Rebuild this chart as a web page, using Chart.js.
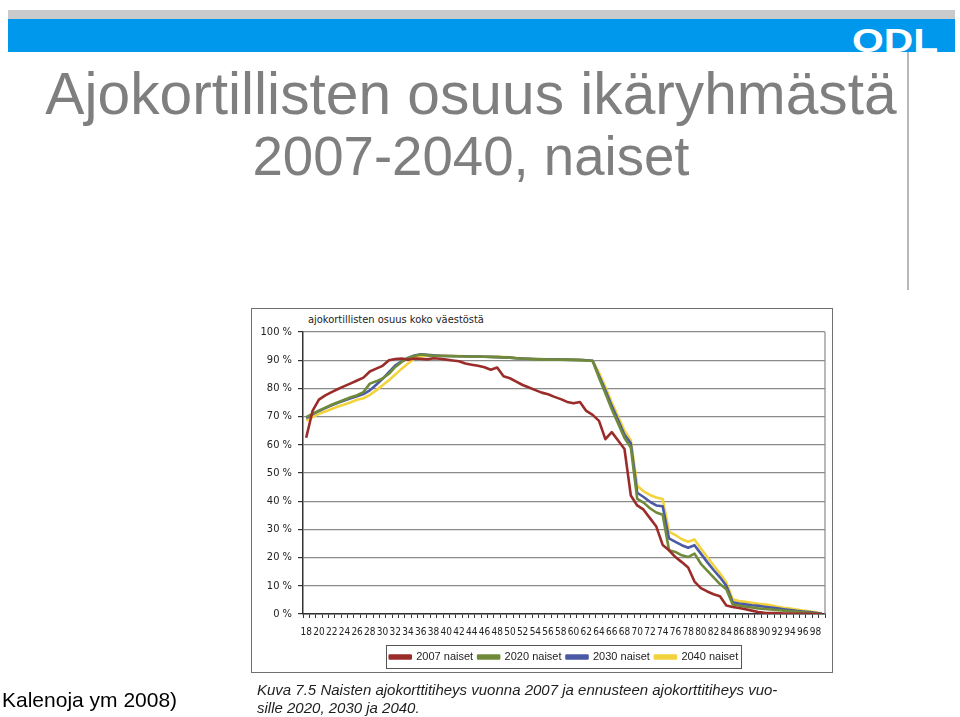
<!DOCTYPE html>
<html>
<head>
<meta charset="utf-8">
<script src="https://cdn.jsdelivr.net/npm/chart.js@4.4.0/dist/chart.umd.min.js"></script>
<style>
    html, body { margin: 0; padding: 0; background: #fff; }
    body { width: 960px; height: 717px; position: relative; overflow: hidden; font-family: 'Liberation Sans', Arial, sans-serif; }
    #top-strip { position: absolute; left: 8px; top: 10px; width: 947px; height: 9px; background: #c9cacc; }
    #blue-bar { position: absolute; left: 8px; top: 19px; width: 947px; height: 33px; background: #0098ec; overflow: hidden; }
    #logo { position: absolute; left: 844px; top: 4px; color: #fff; font-weight: bold; font-size: 34px; line-height: 34px; transform: scaleX(1.2); transform-origin: left top; }
    #side-line { position: absolute; left: 907px; top: 52px; width: 2px; height: 238px; background: #b8b8b8; }
    .title-line { position: absolute; left: 0; width: 942px; text-align: center; color: #7f7f7f; line-height: 60px; white-space: nowrap; }
    #title-1 { top: 64px; font-size: 58.7px; }
    #title-2 { top: 127px; font-size: 54.6px; }
    #frame { position: absolute; left: 251px; top: 308px; width: 582px; height: 365px; box-sizing: border-box; border: 1.5px solid #707070; }
    #chart-wrap { position: absolute; left: 252px; top: 309px; width: 580px; height: 378px; }
    #sub-title { position: absolute; left: 308px; top: 313px; font-family: 'Liberation Sans Narrow', 'DejaVu Sans Condensed', sans-serif; font-size: 11px; color: #222; }
    #caption { position: absolute; left: 257px; top: 681px; font-style: italic; font-size: 15px; line-height: 18px; color: #1e1e1e; }
    #source { position: absolute; left: 2px; top: 688px; font-size: 21px; color: #000; }
</style>
</head>
<body>
<div id="top-strip"></div>
<div id="blue-bar"><span id="logo">ODL</span></div>
<div id="side-line"></div>
<div id="title-1" class="title-line">Ajokortillisten osuus ikäryhmästä</div>
<div id="title-2" class="title-line">2007-2040, naiset</div>
<div id="frame"></div>
<div id="sub-title">ajokortillisten osuus koko väestöstä</div>
<div id="chart-wrap"><canvas id="chart" width="580" height="378"></canvas></div>
<div id="caption">Kuva 7.5 Naisten ajokorttitiheys vuonna 2007 ja ennusteen ajokorttitiheys vuo-<br>sille 2020, 2030 ja 2040.</div>
<div id="source">Kalenoja ym 2008)</div>

<script>
// --- Data (ages 18-99, share of age group with driving licence, %) ---
const ages = ['18', '19', '20', '21', '22', '23', '24', '25', '26', '27',
    '28', '29', '30', '31', '32', '33', '34', '35', '36', '37',
    '38', '39', '40', '41', '42', '43', '44', '45', '46', '47',
    '48', '49', '50', '51', '52', '53', '54', '55', '56', '57',
    '58', '59', '60', '61', '62', '63', '64', '65', '66', '67',
    '68', '69', '70', '71', '72', '73', '74', '75', '76', '77',
    '78', '79', '80', '81', '82', '83', '84', '85', '86', '87',
    '88', '89', '90', '91', '92', '93', '94', '95', '96', '97',
    '98', '99'];

const shownAgeLabels = ['18', '20', '22', '24', '26', '28', '30', '32', '34', '36', '38',
    '40', '42', '44', '46', '48', '50', '52', '54', '56', '58', '60', '62', '64', '66', '68',
    '70', '72', '74', '76', '78', '80', '82', '84', '86', '88', '90', '92', '94', '96', '98'];

const women2007 = [62.5, 72.0, 76.0, 77.5, 78.7, 79.8, 80.8, 81.8, 82.8, 83.8,
    86.0, 87.0, 88.0, 90.0, 90.4, 90.6, 90.2, 90.6, 90.5, 90.3,
    90.7, 90.5, 90.2, 89.9, 89.6, 88.8, 88.4, 88.0, 87.5, 86.6,
    87.4, 84.3, 83.6, 82.4, 81.2, 80.3, 79.4, 78.5, 77.9, 77.0,
    76.2, 75.2, 74.7, 75.2, 72.0, 70.6, 68.5, 62.0, 64.5, 61.5,
    58.5, 42.0, 38.5, 37.0, 34.0, 31.0, 24.5, 22.6, 20.2, 18.4,
    16.5, 11.5, 9.2, 8.0, 7.0, 6.3, 3.0, 2.5, 2.1, 1.7,
    1.2, 0.7, 0.4, 0.3, 0.3, 0.2, 0.2, 0.1, 0.1, 0.1,
    0.0, 0.0];

const women2020 = [69.8, 71.0, 72.1, 73.2, 74.2, 75.1, 76.0, 76.9, 77.6, 78.7,
    81.7, 82.5, 83.5, 85.2, 87.6, 89.4, 90.8, 91.6, 92.0, 91.8,
    91.6, 91.5, 91.5, 91.4, 91.4, 91.3, 91.3, 91.2, 91.2, 91.1,
    91.1, 91.0, 90.9, 90.7, 90.5, 90.4, 90.3, 90.3, 90.2, 90.2,
    90.2, 90.1, 90.1, 90.0, 89.9, 89.7, 83.8, 78.3, 72.6, 67.6,
    62.4, 59.0, 40.8, 39.5, 37.5, 36.0, 35.2, 22.6, 22.0, 20.8,
    20.2, 21.4, 17.8, 15.4, 13.0, 10.6, 8.8, 3.4, 3.0, 2.6,
    2.3, 2.0, 1.8, 1.6, 1.4, 1.2, 1.0, 0.8, 0.6, 0.4,
    0.2, 0.0];

const women2030 = [69.5, 70.8, 72.0, 73.0, 74.0, 74.9, 75.7, 76.5, 77.2, 78.0,
    79.3, 81.3, 83.4, 85.8, 88.2, 89.6, 90.8, 91.7, 92.1, 91.9,
    91.7, 91.6, 91.5, 91.5, 91.4, 91.4, 91.3, 91.3, 91.2, 91.2,
    91.1, 91.0, 90.9, 90.7, 90.6, 90.5, 90.4, 90.3, 90.3, 90.3,
    90.2, 90.2, 90.1, 90.1, 90.0, 89.8, 84.5, 79.3, 73.8, 68.8,
    63.6, 60.5, 43.0, 41.5, 39.8, 38.5, 38.2, 26.8, 25.6, 24.4,
    23.5, 24.4, 21.4, 18.4, 15.6, 13.0, 10.0, 4.2, 3.7, 3.4,
    3.1, 2.9, 2.6, 2.3, 2.0, 1.7, 1.4, 1.1, 0.9, 0.7,
    0.4, 0.1];

const women2040 = [68.6, 69.8, 71.0, 71.8, 72.7, 73.6, 74.3, 75.1, 76.0, 76.5,
    77.7, 79.3, 81.1, 82.9, 84.9, 87.0, 88.8, 90.6, 91.4, 91.6,
    91.7, 91.6, 91.6, 91.5, 91.5, 91.4, 91.4, 91.3, 91.3, 91.2,
    91.2, 91.1, 91.0, 90.8, 90.6, 90.5, 90.4, 90.4, 90.3, 90.3,
    90.3, 90.2, 90.2, 90.1, 90.0, 89.9, 85.5, 80.5, 75.0, 70.0,
    65.0, 61.5, 45.5, 43.5, 42.2, 41.3, 40.8, 29.2, 28.0, 26.5,
    25.6, 26.4, 23.2, 20.2, 17.2, 14.4, 11.2, 5.2, 4.6, 4.3,
    4.0, 3.6, 3.4, 3.1, 2.6, 2.2, 1.9, 1.6, 1.2, 1.0,
    0.6, 0.2];

const seriesNames = ['2007 naiset', '2020 naiset', '2030 naiset', '2040 naiset'];
const seriesColors = ['#9a2c2a', '#6f8a3a', '#4b5aa6', '#f3d33c'];

// --- Fonts ---
const narrowFont = "'Liberation Sans Narrow', 'DejaVu Sans Condensed', 'Liberation Sans', sans-serif";
const sansFont = "'Liberation Sans', Arial, sans-serif";

// right edge of the plot area, like the Excel frame
const plotFrame = {
    id: 'plotFrame',
    afterDatasetsDraw(chart) {
        const { ctx, chartArea } = chart;
        ctx.save();
        ctx.strokeStyle = '#8a8a8a';
        ctx.lineWidth = 1.2;
        ctx.beginPath();
        ctx.moveTo(chartArea.right, chartArea.top);
        ctx.lineTo(chartArea.right, chartArea.bottom);
        ctx.stroke();
        ctx.restore();
    }
};

// box round the legend items
const legendFrame = {
    id: 'legendFrame',
    afterDraw(chart) {
        const boxes = chart.legend.legendHitBoxes;
        if (!boxes || !boxes.length) return;
        const left = Math.min(...boxes.map(b => b.left)) - 4;
        const right = Math.max(...boxes.map(b => b.left + b.width)) + 2;
        const mid = boxes[0].top + boxes[0].height / 2;
        const { ctx } = chart;
        ctx.save();
        ctx.strokeStyle = '#555';
        ctx.lineWidth = 1;
        ctx.strokeRect(Math.round(left) + 0.5, Math.round(mid - 12) + 0.5, Math.round(right - left), 23);
        ctx.restore();
    }
};

const datasets = [women2007, women2020, women2030, women2040].map((values, i) => ({
    label: seriesNames[i],
    data: values,
    borderColor: seriesColors[i],
    backgroundColor: seriesColors[i],
    borderWidth: 2.6,
    pointRadius: 0,
    tension: 0,
    borderJoinStyle: 'round'
}));

new Chart(document.getElementById('chart').getContext('2d'), {
    type: 'line',
    data: { labels: ages, datasets: datasets },
    options: {
        responsive: false,
        animation: false,
        layout: { padding: { left: 1, right: 7, top: 23, bottom: 14.5 } },
        plugins: {
            legend: {
                position: 'bottom',
                fullSize: false,
                labels: {
                    boxWidth: 21,
                    boxHeight: 3,
                    padding: 5,
                    color: '#1e1e1e',
                    font: { family: sansFont, size: 11 }
                }
            },
            tooltip: { enabled: false }
        },
        scales: {
            x: {
                offset: true,
                grid: { display: true, drawOnChartArea: false, drawTicks: true, tickLength: 4, tickColor: '#333', offset: true },
                border: { color: '#333', width: 1.5 },
                ticks: {
                    autoSkip: false,
                    maxRotation: 0,
                    padding: 8,
                    color: '#222',
                    font: { family: narrowFont, size: 10 },
                    callback: (value, index) => shownAgeLabels.includes(ages[index]) ? ages[index] : ''
                },
                afterFit: scale => { scale.height = 32.5; }
            },
            y: {
                min: 0,
                max: 100,
                ticks: {
                    stepSize: 10,
                    padding: 6,
                    color: '#222',
                    font: { family: narrowFont, size: 11 },
                    callback: value => value + ' %'
                },
                grid: { color: '#8a8a8a', lineWidth: 1.2, tickLength: 5, tickColor: '#333' },
                border: { color: '#333', width: 1.5 },
                afterFit: scale => { scale.width = 50; }
            }
        }
    },
    plugins: [plotFrame, legendFrame]
});
</script>
</body>
</html>
